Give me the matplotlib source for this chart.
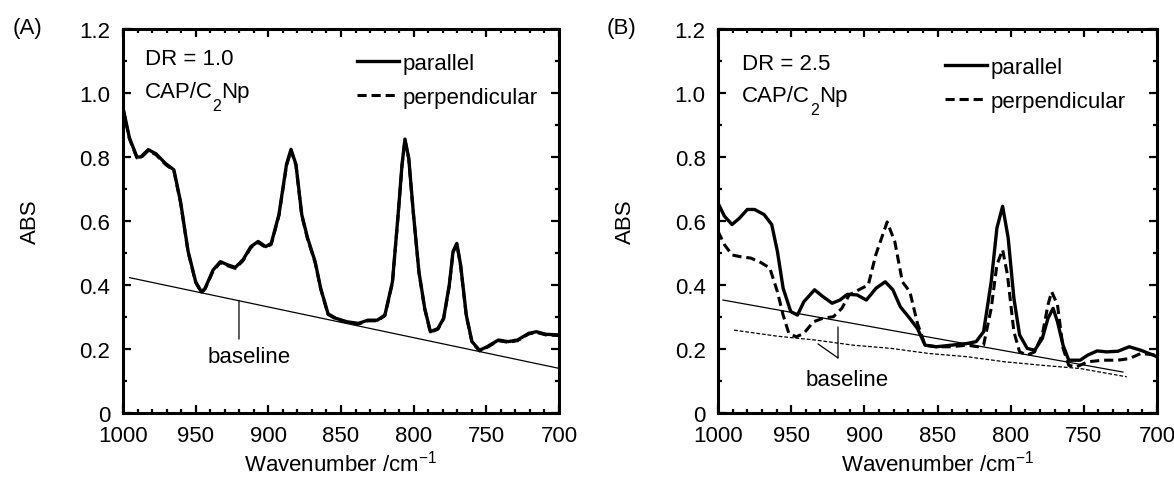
import matplotlib
matplotlib.use('Agg')
import matplotlib.pyplot as plt
from matplotlib.ticker import MultipleLocator, FixedLocator

plt.rcParams['font.family'] = ['Liberation Sans', 'DejaVu Sans']
plt.rcParams['mathtext.fontset'] = 'custom'
plt.rcParams['mathtext.rm'] = 'Liberation Sans'

# ---------------- Panel A (DR = 1.0) ----------------
a_wn = [1000, 995.6, 990.4, 987.8, 982.6, 977.3, 970.8, 965, 960.4, 955.2, 950, 946,
        943.5, 938, 933, 928, 922.7, 917.4, 912, 907, 901.8, 898, 892.7, 887.5, 884.4,
        881, 877, 873, 867.8, 864, 858.9, 853.6, 845.8, 838, 831.5, 825, 819.8, 814.6,
        810.7, 808, 806, 803.4, 800.3, 796.4, 792.4, 788.5, 783.3, 779.4, 775.5, 772.9,
        770.3, 767.7, 763.8, 759.9, 754.7, 749.5, 741.7, 735, 728.6, 720.8, 715.6, 709, 700]
a_par = [0.954, 0.86, 0.80, 0.80, 0.823, 0.81, 0.78, 0.76, 0.66, 0.505, 0.41, 0.378,
         0.39, 0.447, 0.473, 0.463, 0.455, 0.479, 0.52, 0.536, 0.52, 0.53, 0.62, 0.777, 0.824,
         0.777, 0.62, 0.547, 0.473, 0.39, 0.31, 0.296, 0.285, 0.28, 0.29, 0.29, 0.306, 0.41,
         0.62, 0.777, 0.856, 0.797, 0.63, 0.442, 0.327, 0.254, 0.264, 0.296, 0.40, 0.505,
         0.53, 0.463, 0.306, 0.223, 0.196, 0.207, 0.228, 0.223, 0.228, 0.249, 0.254, 0.246, 0.244]
a_perp = [0.950, 0.857, 0.797, 0.797, 0.820, 0.807, 0.777, 0.757, 0.657, 0.503, 0.408, 0.376,
          0.388, 0.444, 0.470, 0.460, 0.452, 0.476, 0.517, 0.533, 0.517, 0.527, 0.617, 0.773, 0.821,
          0.774, 0.617, 0.544, 0.470, 0.388, 0.308, 0.294, 0.283, 0.278, 0.288, 0.288, 0.304, 0.407,
          0.617, 0.774, 0.852, 0.794, 0.627, 0.440, 0.325, 0.252, 0.262, 0.294, 0.397, 0.502,
          0.527, 0.460, 0.304, 0.221, 0.194, 0.205, 0.226, 0.221, 0.226, 0.247, 0.252, 0.244, 0.242]
a_base_wn = [995.5, 700.5]
a_base = [0.423, 0.140]

# ---------------- Panel B (DR = 2.5) ----------------
b_par_wn = [1000, 995.6, 990.4, 985.3, 980, 975, 968.5, 963.3, 959.4, 955.5, 950.3, 945.7,
            941.3, 934, 928.4, 922, 916.7, 911.6, 905, 898.6, 892, 885.7, 880.5, 875.4, 869,
            863.7, 858.5, 850.8, 840.5, 830, 823.6, 818.5, 813.3, 809.4, 805.5, 801.7, 797.8,
            793.9, 788.7, 783.6, 778.4, 774.5, 771, 768, 764.2, 760.3, 752.5, 747.3, 740.9,
            734.4, 726.7, 719, 711, 700]
b_par = [0.656, 0.615, 0.589, 0.609, 0.636, 0.636, 0.62, 0.589, 0.505, 0.39, 0.317, 0.306,
         0.348, 0.385, 0.364, 0.343, 0.353, 0.371, 0.369, 0.353, 0.39, 0.41, 0.385, 0.332, 0.296,
         0.264, 0.212, 0.207, 0.212, 0.217, 0.223, 0.254, 0.41, 0.578, 0.646, 0.547, 0.359,
         0.244, 0.202, 0.196, 0.233, 0.296, 0.327, 0.285, 0.212, 0.165, 0.165, 0.181, 0.194,
         0.191, 0.193, 0.207, 0.196, 0.176]
b_perp_wn = [1000, 995.6, 990.4, 985.3, 977.5, 971, 964.6, 959.4, 955.5, 951.6, 946.5, 941.3,
             934.8, 928.4, 921.1, 915.4, 910.3, 903.8, 897.3, 892.2, 884.4, 879.2, 874, 868.9,
             863.7, 858.5, 850.8, 840.5, 830, 822.4, 818.5, 813.3, 809.4, 805.5, 802.2, 797.8,
             793.9, 788.7, 783.6, 778.4, 774.5, 772, 768, 764.2, 760.3, 755.1, 747.3, 737,
             726.7, 719, 711, 700]
b_perp = [0.568, 0.526, 0.494, 0.489, 0.484, 0.471, 0.453, 0.379, 0.306, 0.249, 0.238, 0.249,
          0.285, 0.296, 0.301, 0.327, 0.369, 0.385, 0.40, 0.494, 0.597, 0.536, 0.41, 0.379,
          0.28, 0.212, 0.207, 0.207, 0.212, 0.207, 0.212, 0.327, 0.463, 0.51, 0.432, 0.254,
          0.191, 0.181, 0.191, 0.244, 0.338, 0.379, 0.338, 0.202, 0.149, 0.144, 0.16, 0.165,
          0.165, 0.17, 0.186, 0.181]
b_base_par_wn = [996.6, 723.3]
b_base_par = [0.353, 0.128]
b_base_perp_wn = [989, 959.4, 933.5, 907.7, 881.8, 856, 830, 804, 778.4, 752.5, 720.6]
b_base_perp = [0.259, 0.240, 0.228, 0.212, 0.202, 0.186, 0.176, 0.160, 0.149, 0.139, 0.113]

x_ticks = [1000, 950, 900, 850, 800, 750, 700]
y_ticks = [0, 0.2, 0.4, 0.6, 0.8, 1.0, 1.2]
y_ticklabels = ['0', '0.2', '0.4', '0.6', '0.8', '1.0', '1.2']

FS = 16
fig = plt.figure(figsize=(11.74, 4.81), dpi=100)
axA = fig.add_axes([123/1174, 67/481, 436/1174, 384/481])
axB = fig.add_axes([718/1174, 67/481, 439/1174, 384/481])

dash = (0, (3, 1.6))

def style(ax):
    ax.set_xlim(1000, 700)
    ax.set_ylim(0, 1.2)
    ax.xaxis.set_major_locator(FixedLocator(x_ticks))
    ax.xaxis.set_minor_locator(MultipleLocator(10))
    ax.yaxis.set_major_locator(FixedLocator(y_ticks))
    ax.yaxis.set_minor_locator(MultipleLocator(0.1))
    ax.set_yticklabels(y_ticklabels)
    ax.tick_params(which='both', direction='in', top=True, right=True, width=1.6,
                   labelsize=FS, colors='black')
    ax.tick_params(which='major', length=6, pad=9)
    ax.tick_params(which='minor', length=3)
    for s in ax.spines.values():
        s.set_linewidth(2.2)
    ax.set_xlabel('Wavenumber /cm$^{\\mathregular{-1}}$', fontsize=FS, labelpad=2)
    ax.set_ylabel('ABS', fontsize=FS, labelpad=28)

def formula(ax, x, y):
    # "CAP/C" + lowered subscript "2" + "Np"
    t1 = ax.text(x, y, 'CAP/C', transform=ax.transAxes, fontsize=FS, va='baseline', ha='left')
    t2 = ax.annotate('2', xy=(1, 0.22), xycoords=t1, fontsize=11.5, va='top', ha='left')
    ax.annotate('Np', xy=(1, 0), xycoords=(t2, t1), fontsize=FS, va='bottom', ha='left')

legend_kw = dict(loc='upper left', frameon=False, fontsize=FS, handlelength=1.9,
                 handletextpad=0.15, labelspacing=0.58, borderpad=0, borderaxespad=0)

# Panel A
axA.plot(a_wn, a_par, color='black', lw=2.4, solid_joinstyle='round', label='parallel')
axA.plot(a_wn, a_perp, color='black', lw=2.2, linestyle=dash, label='perpendicular')
axA.plot(a_base_wn, a_base, color='black', lw=0.9)
axA.annotate('', xy=(920.2, 0.352), xytext=(920.2, 0.231),
             arrowprops=dict(arrowstyle='-', lw=0.9, color='black', shrinkA=0, shrinkB=0))
axA.text(913.3, 0.178, 'baseline', fontsize=FS, ha='center', va='center')
style(axA)
axA.text(0.05, 0.924, 'DR = 1.0', transform=axA.transAxes, fontsize=FS, va='center')
formula(axA, 0.05, 0.822)
axA.legend(bbox_to_anchor=(0.536, 0.937), **legend_kw)
fig.text(13/1174, 1 - 29/481, '(A)', fontsize=FS, va='center', ha='left')

# Panel B
axB.plot(b_par_wn, b_par, color='black', lw=2.4, label='parallel')
axB.plot(b_perp_wn, b_perp, color='black', lw=2.2, linestyle=dash, label='perpendicular')
axB.plot(b_base_par_wn, b_base_par, color='black', lw=0.9)
axB.plot(b_base_perp_wn, b_base_perp, color='black', lw=0.9, linestyle=(0, (3, 1.5)))
axB.annotate('', xy=(918, 0.269), xytext=(918, 0.172),
             arrowprops=dict(arrowstyle='-', lw=0.9, color='black', shrinkA=0, shrinkB=0))
axB.annotate('', xy=(931.7, 0.216), xytext=(918, 0.172),
             arrowprops=dict(arrowstyle='-', lw=0.9, color='black', shrinkA=0, shrinkB=0))
axB.text(911.8, 0.106, 'baseline', fontsize=FS, ha='center', va='center')
style(axB)
axB.text(0.055, 0.909, 'DR = 2.5', transform=axB.transAxes, fontsize=FS, va='center')
formula(axB, 0.055, 0.812)
axB.legend(bbox_to_anchor=(0.517, 0.928), **legend_kw)
fig.text(607/1174, 1 - 29/481, '(B)', fontsize=FS, va='center', ha='left')

fig.savefig('out.png', dpi=100)
